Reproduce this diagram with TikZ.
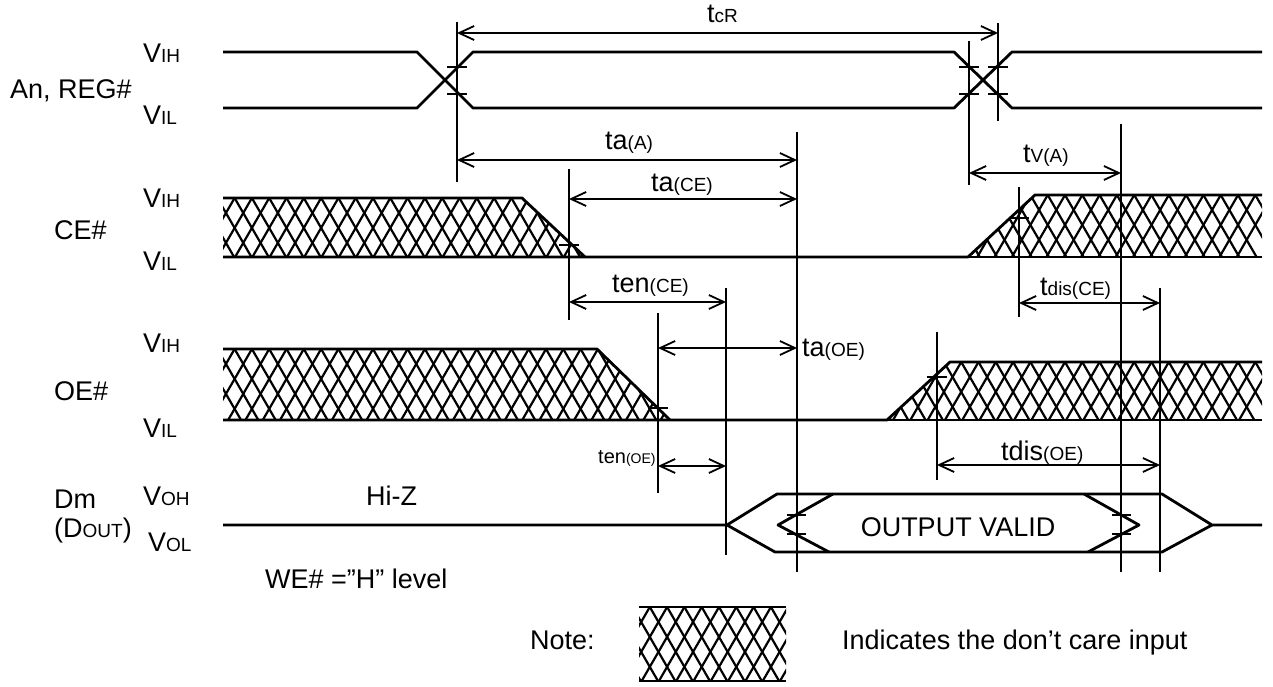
\documentclass[tikz,border=0pt]{standalone}
\usepackage{fontspec}
\setmainfont{Liberation Sans}
\usetikzlibrary{arrows.meta}
\newcommand{\sm}[1]{{\fontsize{19}{22}\selectfont #1}}
\newcommand{\hatchpoly}[3]{%
  \begin{scope}
    \clip #1;
    \foreach \k in {0,...,62} {
      \draw[hatchline] ({200+\k*17.3},#2) -- ++({(#3-#2)/1.73},{#3-#2});
      \draw[hatchline] ({200+\k*17.3},#2) -- ++({-(#3-#2)/1.73},{#3-#2});
    }
  \end{scope}}
\tikzset{
  sig/.style={line width=2.8pt, line join=round},
  hatchline/.style={line width=2.2pt},
  vline/.style={line width=1.5pt},
  tickm/.style={line width=2.2pt},
  dim/.style={line width=1.8pt, {Straight Barb[length=15pt,width=14pt,line width=1.8pt]}-{Straight Barb[length=15pt,width=14pt,line width=1.8pt]}},
  lab/.style={font=\fontsize{27}{32}\selectfont, inner sep=0pt, anchor=base west},
}
\begin{document}
\begin{tikzpicture}[x=1pt,y=-1pt]
\fill[white] (0,0) rectangle (1273,687);
\useasboundingbox (0,0) rectangle (1273,687);

% ---------- An, REG# ----------
\node[lab] (an) at (10,99) {An, REG\#};
\node[lab] (anh) at (143,63) {V\sm{IH}};
\node[lab] (anl) at (143,125) {V\sm{IL}};
\draw[sig] (223,52) -- (417,52) -- (473,108) -- (954,108) -- (1012,52) -- (1262,52);
\draw[sig] (223,108) -- (417,108) -- (473,52) -- (954,52) -- (1012,108) -- (1262,108);
\foreach \x in {457,969,998} {
  \draw[tickm] (\x-10,67) -- (\x+10,67);
  \draw[tickm] (\x-10,94) -- (\x+10,94);
}

% ---------- vertical reference lines ----------
\draw[vline] (457,22) -- (457,182);
\draw[vline] (969,41) -- (969,185);
\draw[vline] (998,23) -- (998,121);
\draw[vline] (797,132) -- (797,572);
\draw[vline] (1121,124) -- (1121,572);
\draw[vline] (569,169) -- (569,320);
\draw[vline] (1019,187) -- (1019,317);
\draw[vline] (726,288) -- (726,555);
\draw[vline] (1160,288) -- (1160,572);
\draw[vline] (658,313) -- (658,493);
\draw[vline] (937,332) -- (937,480);

% ---------- dimension arrows ----------
\draw[dim] (457,33) -- (998,33);
\node[lab] (tcr) at (707,23) {t\sm{cR}};
\draw[dim] (457,160) -- (797,160);
\node[lab] (taa) at (605,150) {ta\sm{(A)}};
\draw[dim] (969,173) -- (1121,173);
\node[lab] (tva) at (1023,163) {t\sm{V(A)}};
\draw[dim] (569,199) -- (797,199);
\node[lab] (tace) at (651,192) {ta\sm{(CE)}};
\draw[dim] (569,302) -- (726,302);
\node[lab] (tence) at (612,292) {ten\sm{(CE)}};
\draw[dim] (1019,303) -- (1160,303);
\node[lab] (tdisce) at (1040,295) {t\sm{dis(CE)}};
\draw[dim] (658,348) -- (797,348);
\node[lab] (taoe) at (802,356) {ta\sm{(OE)}};
\draw[dim] (658,466) -- (726,466);
\node[lab, font=\fontsize{20}{24}\selectfont] (tenoe) at (598,463) {ten{\fontsize{14}{16}\selectfont (OE)}};
\draw[dim] (937,465) -- (1160,465);
\node[lab] (tdisoe) at (1001,460) {tdis\sm{(OE)}};

% ---------- CE# ----------
\node[lab] (ceh) at (143,207) {V\sm{IH}};
\node[lab] (cen) at (54,239) {CE\#};
\node[lab] (cel) at (143,270) {V\sm{IL}};
\hatchpoly{(223,198) -- (522,198) -- (585,257) -- (223,257) -- cycle}{198}{257}
\hatchpoly{(968,257) -- (1035,195) -- (1262,195) -- (1262,257) -- cycle}{195}{257}
\draw[sig] (223,198) -- (522,198) -- (585,257);
\draw[sig] (223,257) -- (968,257) -- (1035,195) -- (1262,195);
\draw[sig] (968,257) -- (1262,257);
\draw[tickm] (559,245) -- (579,245);
\draw[tickm] (1009,218) -- (1029,218);

% ---------- OE# ----------
\node[lab] (oeh) at (143,352) {V\sm{IH}};
\node[lab] (oen) at (54,400) {OE\#};
\node[lab] (oel) at (143,437) {V\sm{IL}};
\hatchpoly{(223,349) -- (597,349) -- (670,420) -- (223,420) -- cycle}{349}{420}
\hatchpoly{(887,420) -- (950,362) -- (1262,362) -- (1262,420) -- cycle}{362}{420}
\draw[sig] (223,349) -- (597,349) -- (670,420);
\draw[sig] (223,420) -- (887,420) -- (950,362) -- (1262,362);
\draw[sig] (887,420) -- (1262,420);
\draw[tickm] (648,408) -- (668,408);
\draw[tickm] (927,377) -- (947,377);

% ---------- Dm ----------
\node[lab] (dm) at (54,508) {Dm};
\node[lab] (dout) at (54,537) {(D\sm{OUT})};
\node[lab] (voh) at (143,505) {V\sm{OH}};
\node[lab] (vol) at (148,551) {V\sm{OL}};
\node[lab] (hiz) at (366,505) {Hi-Z};
\draw[sig] (223,525) -- (727,525) -- (777,494) -- (1162,494) -- (1212,525) -- (1262,525);
\draw[sig] (727,525) -- (775,552) -- (1162,552) -- (1212,525);
\draw[sig] (833,494) -- (778,525) -- (829,552);
\draw[sig] (1084,494) -- (1139,525) -- (1088,552);
\draw[tickm] (787,515) -- (806,515);
\draw[tickm] (787,534) -- (806,534);
\draw[tickm] (1112,515) -- (1131,515);
\draw[tickm] (1112,534) -- (1131,534);
\node[font=\fontsize{27}{32}\selectfont, inner sep=0pt] (ov) at (958,527) {OUTPUT VALID};
\node[lab] (we) at (265,588) {WE\# =\char"201D H\char"201D\ level};

% ---------- legend ----------
\node[lab] (note) at (530,649) {Note:};
\hatchpoly{(639,607) rectangle (786,681)}{607}{681}
\draw[sig] (639,607) -- (786,607);
\draw[sig] (639,681) -- (786,681);
\node[lab] (ind) at (842,649) {Indicates the don\char"2019 t care input};
\end{tikzpicture}
\end{document}
